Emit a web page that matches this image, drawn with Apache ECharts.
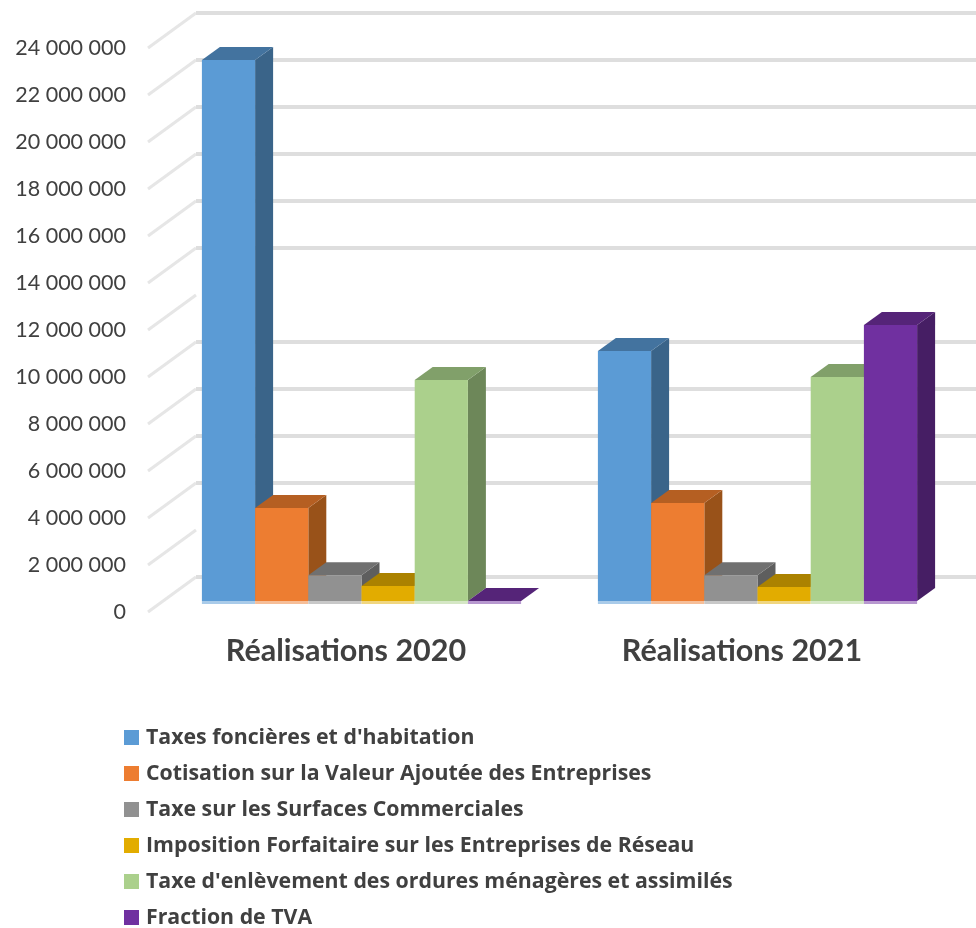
<!DOCTYPE html>
<html><head><meta charset="utf-8">
<style>html,body{margin:0;padding:0;background:#fff}#c{width:976px;height:928px}</style>
<script src="https://cdn.jsdelivr.net/npm/echarts@6/dist/echarts.min.js"></script>
</head><body><div id="c"></div>
<script>
const categories = ['Réalisations 2020', 'Réalisations 2021'];
const seriesNames = ["Taxes foncières et d'habitation", 'Cotisation sur la Valeur Ajoutée des Entreprises', 'Taxe sur les Surfaces Commerciales', 'Imposition Forfaitaire sur les Entreprises de Réseau', "Taxe d'enlèvement des ordures ménagères et assimilés", 'Fraction de TVA'];
const taxesFoncieres = [23020000, 10640000];
const cotisationValeur = [3960000, 4170000];
const taxeSurfaces = [1100000, 1100000];
const impositionForfaitaire = [640000, 600000];
const taxeOrdures = [9400000, 9530000];
const fractionTva = [0, 11740000];
const yTicks = [0, 2000000, 4000000, 6000000, 8000000, 10000000, 12000000, 14000000, 16000000, 18000000, 20000000, 22000000, 24000000];
const wallLines = [0, 4000000, 6000000, 8000000, 10000000, 14000000, 16000000, 18000000, 20000000, 22000000, 24000000];

const values = [taxesFoncieres, cotisationValeur, taxeSurfaces, impositionForfaitaire, taxeOrdures, fractionTva];
const front = ['#5B9BD5', '#ED7D31', '#919191', '#E2AC00', '#ABD08C', '#7030A0'];
const top3d = ['#43739F', '#B55F22', '#707070', '#AB8200', '#81A06A', '#552478'];
const side = ['#3A6489', '#995219', '#5E5E5E', '#8F6C00', '#6D8759', '#461E64'];
const strip = ['#A9CBE9', '#F6BE98', '#C8C8C8', '#F0D680', '#D5E7C5', '#B798CF'];
const fmt = v => String(v).replace(/\B(?=(\d{3})+$)/g, ' ');
const BAR = 53.2, DX = 18, DY = -13, OFFX = 15.5, OFFY = -11, WALLX = 48, WALLY = -35;

function barRender(si) {
  return function (params, api) {
    const c = api.coord([api.value(0), api.value(1)]);
    const b = api.coord([api.value(0), 0]);
    const x = c[0] - 3 * BAR + si * BAR + OFFX, w = BAR;
    const y = c[1] + OFFY, y0 = b[1] + OFFY;
    const poly = (pts, fill) => ({ type: 'polygon', shape: { points: pts }, style: { fill } });
    return { type: 'group', children: [
      poly([[x + w, y], [x + w + DX, y + DY], [x + w + DX, y0 + DY], [x + w, y0]], side[si]),
      poly([[x, y], [x + DX, y + DY], [x + w + DX, y + DY], [x + w, y]], top3d[si]),
      { type: 'rect', shape: { x, y, width: w, height: y0 - y }, style: { fill: front[si] } },
      { type: 'rect', shape: { x, y: y0, width: w, height: 3 }, style: { fill: strip[si] } }
    ] };
  };
}
const barSeries = seriesNames.map((name, si) => ({
  type: 'custom', name, xAxisIndex: 0, yAxisIndex: 0, z: 5 + si,
  itemStyle: { color: front[si] },
  encode: { x: 0, y: 1 },
  data: categories.map((c, i) => [i, values[si][i]]),
  renderItem: barRender(si)
}));
const wallSeries = {
  type: 'custom', silent: true, xAxisIndex: 0, yAxisIndex: 0, z: 1,
  data: yTicks.map(v => [0, v]),
  encode: { x: 0, y: 1 },
  renderItem(params, api) {
    const v = api.value(1);
    const p = api.coord([0, v]);
    const x0 = p[0] - api.size([1, 0])[0] / 2;
    const children = [{ type: 'line', shape: { x1: x0, y1: p[1], x2: x0 + WALLX, y2: p[1] + WALLY }, style: { stroke: '#E6E6E6', lineWidth: 3 } }];
    if (wallLines.includes(v)) children.push({ type: 'line', shape: { x1: x0 + WALLX, y1: p[1] + WALLY, x2: 976, y2: p[1] + WALLY }, style: { stroke: '#DEDEDE', lineWidth: 4 } });
    return { type: 'group', children };
  }
};
const chart = echarts.init(document.getElementById('c'), null, { renderer: 'canvas' });
chart.setOption({
  animation: false,
  backgroundColor: '#fff',
  grid: { left: 148, top: 48, width: 792, height: 564 },
  xAxis: { type: 'category', data: categories, axisLine: { show: false }, axisTick: { show: false },
    axisLabel: { margin: 24, fontFamily: 'Lato', fontWeight: 'bold', fontSize: 30.5, color: '#404040' } },
  yAxis: { type: 'value', min: 0, max: 24000000, interval: 2000000, splitLine: { show: false }, axisLine: { show: false }, axisTick: { show: false },
    axisLabel: { formatter: fmt, margin: 22, padding: [0, 0, 5, 0], fontFamily: 'Lato', fontSize: 21.5, color: '#404040' } },
  legend: { orient: 'vertical', left: 124, top: 727, height: 240, itemWidth: 15, itemHeight: 15, itemGap: 15, icon: 'rect', selectedMode: false,
    data: seriesNames, textStyle: { fontFamily: 'Open Sans', fontWeight: 'bold', fontSize: 21.3, color: '#404040', padding: [0, 0, 0, 2] }, padding: 0 },
  series: [wallSeries].concat(barSeries)
});
</script></body></html>
